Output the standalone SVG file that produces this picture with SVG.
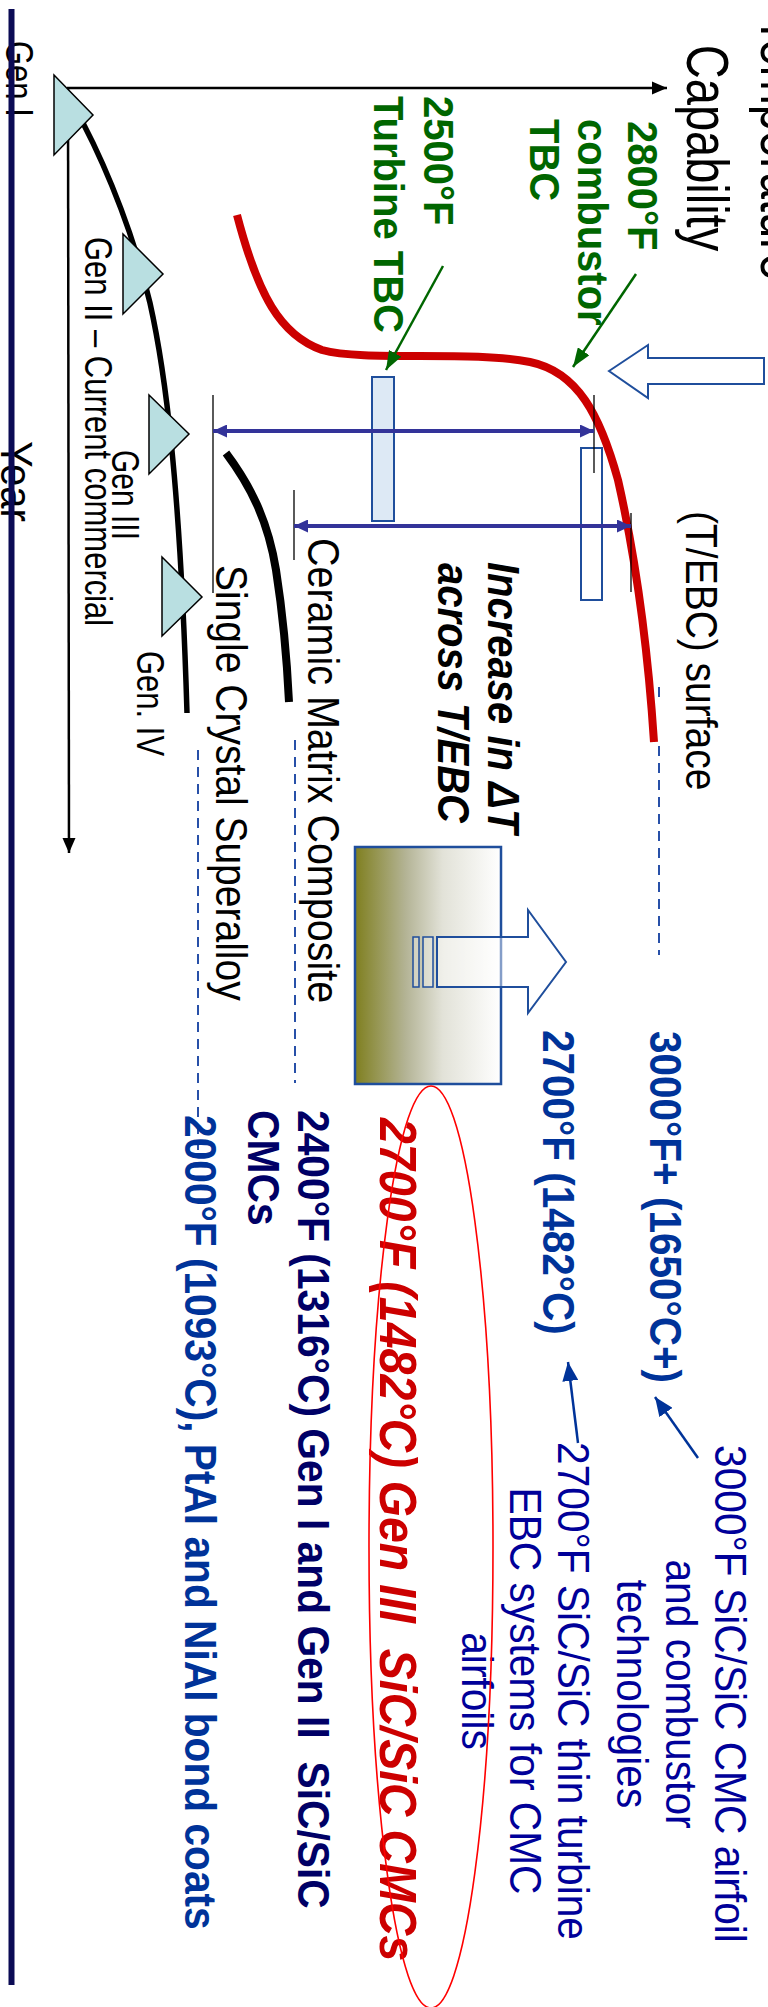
<svg xmlns="http://www.w3.org/2000/svg" width="768" height="2007" viewBox="0 0 768 2007">
<style>
text{font-family:"Liberation Sans",Arial,sans-serif}
.b{font-weight:bold}
.i{font-style:italic}
.pre{white-space:pre}
.tri{fill:#b9dfe1;stroke:#000;stroke-width:1.5}
.dash{fill:none;stroke:#2850a8;stroke-width:2;stroke-dasharray:10 7}
.thin{fill:none;stroke:#000;stroke-width:1.3}
.dim{fill:none;stroke:#333399;stroke-width:4}
.bl{fill:none;stroke:#003399;stroke-width:2.5}
.gr{fill:none;stroke:#006600;stroke-width:2.5}
</style>
<defs>
<marker id="ak" markerUnits="userSpaceOnUse" markerWidth="16" markerHeight="14" refX="15" refY="7" orient="auto"><path d="M0,0.5 L15,7 L0,13.5 z" fill="#000"/></marker>
<marker id="ag" markerUnits="userSpaceOnUse" markerWidth="20" markerHeight="14" refX="19" refY="7" orient="auto"><path d="M0,0 L19,7 L0,14 z" fill="#006600"/></marker>
<marker id="ad" markerUnits="userSpaceOnUse" markerWidth="15" markerHeight="13" refX="14" refY="6.5" orient="auto-start-reverse"><path d="M0,0 L14,6.5 L0,13 z" fill="#333399"/></marker>
<marker id="ab" markerUnits="userSpaceOnUse" markerWidth="20" markerHeight="16" refX="19" refY="8" orient="auto"><path d="M0,0 L19,8 L0,16 z" fill="#003399"/></marker>
<linearGradient id="grad" x1="0" y1="0" x2="1" y2="0">
<stop offset="0" stop-color="#7f7f1f"/>
<stop offset="0.35" stop-color="#b4b496"/>
<stop offset="0.6" stop-color="#e2e2d8"/>
<stop offset="1" stop-color="#ffffff"/>
</linearGradient>
</defs>

<!-- axis labels -->
<g id="axis-labels">
<text transform="translate(761,148) rotate(90) scale(1,1.25)" text-anchor="middle" font-size="47">Temperature</text>
<text transform="translate(687,148) rotate(90) scale(1,1.25)" text-anchor="middle" font-size="47">Capability</text>
<text transform="translate(1,441) rotate(90) scale(1,1.1)" font-size="40">Year</text>
</g>

<!-- curves and coating shapes -->
<g id="gen-curve">
<path d="M83,123 C110,175 135,240 150,303 C165,370 180,480 187,713" fill="none" stroke="#000" stroke-width="5.5"/>
</g>
<g id="cmc-curve">
<path d="M226,453 C250,485 268,520 276,570 C283,615 287,660 289,702" fill="none" stroke="#000" stroke-width="8"/>
</g>
<g id="tebc-curve">
<path d="M237,215 C258,295 280,335 322,350 C365,362 470,350 530,362 C578,372 600,415 618,480 C635,555 648,650 654,742" fill="none" stroke="#cc0000" stroke-width="8"/>
</g>

<g id="coating-bars">
<rect x="372" y="377" width="22" height="144" fill="#dde9f5" stroke="#1f4e9c" stroke-width="2"/>
<rect x="581" y="448" width="21" height="152" fill="none" stroke="#1f4e9c" stroke-width="2"/>
</g>

<g id="connectors">
<line x1="67" y1="88" x2="667" y2="88" stroke="#000" stroke-width="2.5" marker-end="url(#ak)"/>
<line x1="68" y1="88" x2="69" y2="853" stroke="#000" stroke-width="2.5" marker-end="url(#ak)"/>
<line class="gr" x1="636" y1="274" x2="573" y2="367" marker-end="url(#ag)"/>
<line class="gr" x1="443" y1="266" x2="386" y2="370" marker-end="url(#ag)"/>
<line class="thin" x1="213" y1="395" x2="213" y2="593"/>
<line class="thin" x1="594" y1="395" x2="594" y2="473"/>
<line class="thin" x1="294" y1="490" x2="294" y2="560"/>
<line class="thin" x1="631" y1="513" x2="631" y2="592"/>
<line class="dim" x1="213" y1="431" x2="594" y2="431" marker-start="url(#ad)" marker-end="url(#ad)"/>
<line class="dim" x1="294" y1="526" x2="631" y2="526" marker-start="url(#ad)" marker-end="url(#ad)"/>
<line class="dash" x1="198" y1="750" x2="198" y2="1150"/>
<line class="dash" x1="295" y1="740" x2="295" y2="1083"/>
<line class="dash" x1="659" y1="746" x2="659" y2="955"/>
<line x1="659" y1="687" x2="659" y2="697" stroke="#2850a8" stroke-width="2"/>
<line class="bl" x1="698" y1="1458" x2="655" y2="1397" marker-end="url(#ab)"/>
<line class="bl" x1="578" y1="1443" x2="568" y2="1362" marker-end="url(#ab)"/>
</g>

<!-- generation triangles -->
<g id="gen-triangles">
<polygon class="tri" points="54,75 93,115 54,155"/>
<polygon class="tri" points="123,234 163,274 123,314"/>
<polygon class="tri" points="149,395 189,434 149,474"/>
<polygon class="tri" points="162,557 202,597 162,636"/>
</g>

<g id="heat-arrow-top">
<path d="M609,371 L648,345 L648,358 L764,358 L764,384 L648,384 L648,398 Z" fill="#fff" stroke="#1f4e9c" stroke-width="2"/>
</g>

<g id="gradient-box">
<rect x="355" y="847" width="146" height="237" fill="url(#grad)" stroke="#1f4e9c" stroke-width="2.5"/>
<path d="M437,937 L528,937 L528,910 L566,962 L528,1013 L528,987 L437,987 Z" fill="#fff" fill-opacity="0.45" stroke="#1f4e9c" stroke-width="2"/>
<rect x="413" y="937" width="6" height="50" fill="#fff" fill-opacity="0.3" stroke="#1f4e9c" stroke-width="1.5"/>
<rect x="423" y="937" width="10" height="50" fill="#fff" fill-opacity="0.3" stroke="#1f4e9c" stroke-width="1.5"/>
</g>

<!-- labels -->
<g id="tbc-labels" fill="#006600" class="b">
<text class="b" transform="translate(628,121) rotate(90) scale(1,1.05)" font-size="40">2800°F</text>
<text class="b" transform="translate(578,119) rotate(90) scale(1,1.05)" font-size="40">combustor</text>
<text class="b" transform="translate(530,119) rotate(90) scale(1,1.05)" font-size="40">TBC</text>
<text class="b" transform="translate(424,96) rotate(90) scale(1,1.05)" font-size="40">2500°F</text>
<text class="b" transform="translate(374,96) rotate(90) scale(1,1.05)" font-size="40">Turbine TBC</text>
</g>

<g id="gen-labels">
<text transform="translate(6,41) rotate(90) scale(1,1.28)" font-size="31">Gen I</text>
<text transform="translate(85,237) rotate(90) scale(1,1.28)" font-size="31">Gen II – Current commercial</text>
<text transform="translate(112,450) rotate(90) scale(1,1.28)" font-size="30">Gen III</text>
<text transform="translate(137,651) rotate(90) scale(1,1.28)" font-size="31">Gen. IV</text>
</g>

<g id="material-labels">
<text transform="translate(686,511) rotate(90) scale(1,1.15)" font-size="39">(T/EBC) surface</text>
<text class="b i" transform="translate(488,562) rotate(90) scale(1,1.1)" font-size="40">Increase in ΔT</text>
<text class="b i" transform="translate(438,563) rotate(90) scale(1,1.1)" font-size="40">across T/EBC</text>
<text transform="translate(308,538) rotate(90) scale(1,1.13)" font-size="39.5">Ceramic Matrix Composite</text>
<text transform="translate(216,565) rotate(90) scale(1,1.13)" font-size="39">Single Crystal Superalloy</text>
</g>

<g id="temp-labels">
<text class="b" fill="#003399" transform="translate(650,1031) rotate(90) scale(1,1.1)" font-size="40.5">3000°F+ (1650°C+)</text>
<text class="b" fill="#003399" transform="translate(543,1030) rotate(90) scale(1,1.1)" font-size="40.5">2700°F (1482°C)</text>
<text class="b i pre" fill="#cc0000" transform="translate(380,1118) rotate(90) scale(1,1.1)" font-size="46.5">2700°F (1482°C) Gen III  SiC/SiC CMCs</text>
<text class="b pre" fill="#000066" transform="translate(298,1110) rotate(90) scale(1,1.1)" font-size="40.8">2400°F (1316°C) Gen I and Gen II  SiC/SiC</text>
<text class="b" fill="#000066" transform="translate(248,1110) rotate(90) scale(1,1.1)" font-size="40.8">CMCs</text>
<text class="b" fill="#003399" transform="translate(185,1115) rotate(90) scale(1,1.1)" font-size="40.7">2000°F (1093°C), PtAl and NiAl bond coats</text>
</g>

<g id="note-labels" fill="#000099">
<text transform="translate(715,1694) rotate(90) scale(1,1.1)" text-anchor="middle" font-size="40.7">3000°F SiC/SiC CMC airfoil</text>
<text transform="translate(666,1694) rotate(90) scale(1,1.1)" text-anchor="middle" font-size="40.7">and combustor</text>
<text transform="translate(617,1694) rotate(90) scale(1,1.1)" text-anchor="middle" font-size="40.7">technologies</text>
<text transform="translate(558,1691) rotate(90) scale(1,1.1)" text-anchor="middle" font-size="40.7">2700°F SiC/SiC thin turbine</text>
<text transform="translate(510,1691) rotate(90) scale(1,1.1)" text-anchor="middle" font-size="40.7">EBC systems for CMC</text>
<text transform="translate(462,1691) rotate(90) scale(1,1.1)" text-anchor="middle" font-size="40.7">airfoils</text>
</g>

<g id="highlight-ellipse">
<ellipse cx="431" cy="1547" rx="62" ry="461" fill="none" stroke="#ff0000" stroke-width="1.6"/>
</g>

<g id="frame-line">
<line x1="11.5" y1="9" x2="11.5" y2="1985" stroke="#0b0b55" stroke-width="6"/>
</g>
</svg>
